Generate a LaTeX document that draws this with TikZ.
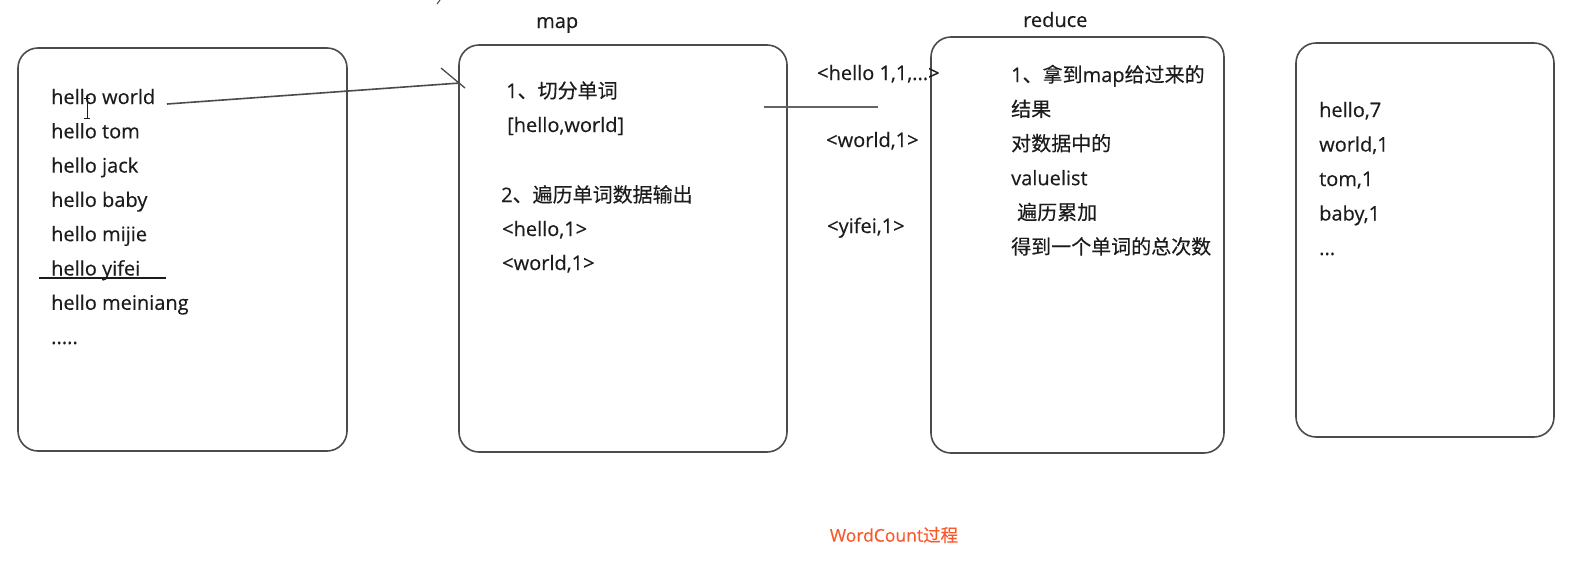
\documentclass[tikz,border=0pt]{standalone}
\usepackage{fontspec}
\setmainfont[FakeBold=0.3]{Open Sans}
\newfontfamily\cjk[FakeBold=0.3]{Noto Sans CJK SC}
\newcommand{\zh}[1]{{\cjk #1}}
\definecolor{txt}{RGB}{28,28,28}
\definecolor{edge}{RGB}{75,75,75}
\definecolor{capc}{RGB}{250,88,40}
\tikzset{
  box/.style={draw=edge, line width=1.6pt, rounded corners=20pt, inner sep=0pt},
  lbl/.style={anchor=base west, inner sep=0pt, text=txt, font=\fontsize{20}{24}\selectfont},
  pen/.style={draw=edge, line width=1.6pt},
}
\begin{document}
\begin{tikzpicture}[x=1pt,y=-1pt]
\fill[white] (0,0) rectangle (1596,563);
\useasboundingbox (0,0) rectangle (1596,563);

% boxes
\node[box, minimum width=329pt, minimum height=403pt] (inbox) at (182.5,249.5) {};
\node[box, minimum width=328pt, minimum height=407pt] (mapbox) at (623,248.5) {};
\node[box, minimum width=293pt, minimum height=416pt] (redbox) at (1077.5,245) {};
\node[box, minimum width=258pt, minimum height=394pt] (outbox) at (1425,240) {};

% titles
\node[lbl] (maptitle) at (536,28) {map};
\node[lbl] (redtitle) at (1023,27) {reduce};

% input lines
\node[lbl] (i1) at (51,104) {hello world};
\node[lbl] (i2) at (51,138.3) {hello tom};
\node[lbl] (i3) at (51,172.6) {hello jack};
\node[lbl] (i4) at (51,206.9) {hello baby};
\node[lbl] (i5) at (51,241.2) {hello mijie};
\node[lbl] (i6) at (51,275.5) {hello yifei};
\node[lbl] (i7) at (51,309.8) {hello meiniang};
\node[lbl] (i8) at (51,344) {.....};

% map lines
\node[lbl] (m1) at (506,98) {1\zh{、切分单词}};
\node[lbl] (m2) at (507,132) {[hello,world]};
\node[lbl] (m3) at (501,202) {2\zh{、遍历单词数据输出}};
\node[lbl] (m4) at (502,236) {<hello,1>};
\node[lbl] (m5) at (502,270) {<world,1>};

% between map and reduce
\node[lbl] (k1) at (817,80) {<hello 1,1,...>};
\node[lbl] (k2) at (826,147) {<world,1>};
\node[lbl] (k3) at (827,233) {<yifei,1>};

% reduce lines
\node[lbl] (r1) at (1011,82) {1\zh{、拿到}map\zh{给过来的}};
\node[lbl] (r2) at (1011,116.4) {\zh{结果}};
\node[lbl] (r3) at (1011,150.8) {\zh{对数据中的}};
\node[lbl] (r4) at (1011,185.2) {valuelist};
\node[lbl] (r5) at (1017,219.6) {\zh{遍历累加}};
\node[lbl] (r6) at (1011,254) {\zh{得到一个单词的总次数}};

% output lines
\node[lbl] (o1) at (1319,117) {hello,7};
\node[lbl] (o2) at (1319,151.5) {world,1};
\node[lbl] (o3) at (1319,186) {tom,1};
\node[lbl] (o4) at (1319,220.5) {baby,1};
\node[lbl] (o5) at (1319,255) {...};

% caption
\node[anchor=center, inner sep=0pt, text=capc, font=\fontsize{17.5}{21}\selectfont] (caption) at (894,535) {WordCount\zh{过程}};

% hand drawn arrow
\coordinate (a1) at (167,104);
\coordinate (a2) at (460,83);
\coordinate (b1) at (441,68);
\coordinate (b2) at (465,88);
\draw[pen] (a1) -- (a2);
\draw[pen, line width=1.3pt] (b1) -- (b2);

% separator line between map and reduce
\coordinate (s1) at (764,107);
\coordinate (s2) at (878,107);
\draw[pen, draw={rgb,255:red,100;green,100;blue,100}, line width=2.2pt] (s1) -- (s2);

% underline under hello yifei
\coordinate (u1) at (39,278);
\coordinate (u2) at (166,278);
\draw[draw=txt, line width=1.4pt] (u1) -- (u2);

% text cursor artifact
\coordinate (c1) at (87,98);
\coordinate (c2) at (87,118);
\draw[draw=txt, line width=0.8pt] (c1) -- (c2) (84,98) -- (90,98) (84,118) -- (90,118);

% stray tick at the top
\coordinate (t1) at (440,0);
\coordinate (t2) at (437,4);
\draw[draw=edge, line width=1pt] (t1) -- (t2);
\end{tikzpicture}
\end{document}
